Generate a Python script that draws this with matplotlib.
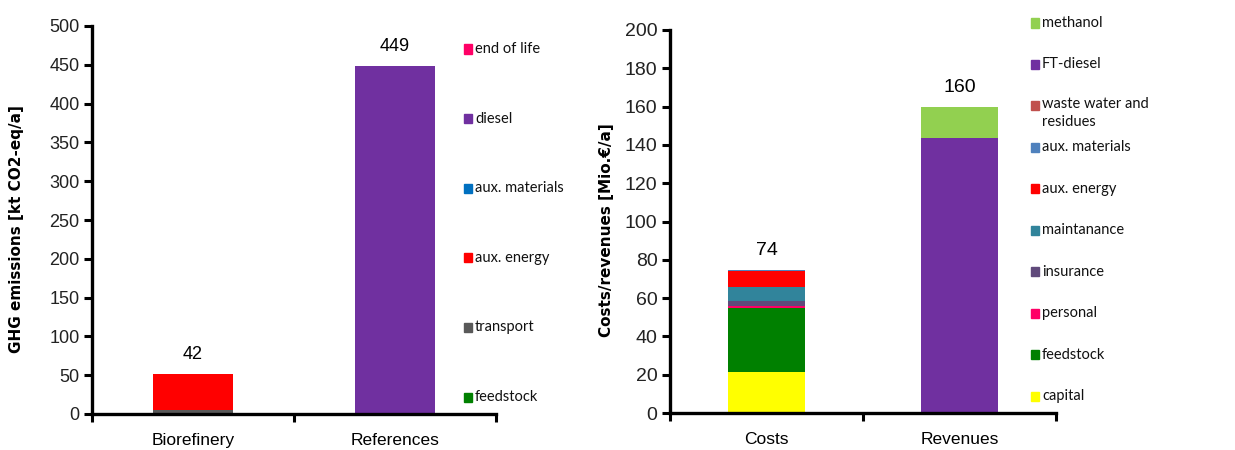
import matplotlib
matplotlib.use("Agg")
import matplotlib.pyplot as plt
import numpy as np

# ---------------- data ----------------
ghg_categories = ["Biorefinery", "References"]
ghg_series = ["feedstock", "transport", "aux. energy", "aux. materials", "diesel", "end of life"]
ghg_feedstock = [0.0, 0.0]
ghg_transport = [5.5, 0.0]
ghg_aux_energy = [45.5, 0.0]
ghg_aux_materials = [0.0, 0.0]
ghg_diesel = [0.0, 449.0]
ghg_end_of_life = [0.8, 0.0]
ghg_labels = ["42", "449"]
ghg_colors = ["#008000", "#595959", "#FF0000", "#0070C0", "#7030A0", "#FF0066"]

cr_categories = ["Costs", "Revenues"]
cr_series = ["capital", "feedstock", "personal", "insurance", "maintanance",
             "aux. energy", "aux. materials", "waste water and\nresidues", "FT-diesel", "methanol"]
cr_capital = [21.4, 0.0]
cr_feedstock = [33.5, 0.0]
cr_personal = [1.0, 0.0]
cr_insurance = [2.5, 0.0]
cr_maintanance = [7.6, 0.0]
cr_aux_energy = [8.2, 0.0]
cr_aux_materials = [0.3, 0.0]
cr_waste_water = [0.2, 0.0]
cr_ft_diesel = [0.0, 143.4]
cr_methanol = [0.0, 16.6]
cr_labels = ["74", "160"]
cr_colors = ["#FFFF00", "#008000", "#FF0066", "#604A7B", "#31849B",
             "#FF0000", "#4F81BD", "#C0504D", "#7030A0", "#92D050"]

ghg_values = [ghg_feedstock, ghg_transport, ghg_aux_energy, ghg_aux_materials, ghg_diesel, ghg_end_of_life]
cr_values = [cr_capital, cr_feedstock, cr_personal, cr_insurance, cr_maintanance,
             cr_aux_energy, cr_aux_materials, cr_waste_water, cr_ft_diesel, cr_methanol]

NARROW = ["Liberation Sans Narrow", "Liberation Sans", "DejaVu Sans"]
LEG = ["Lato", "DejaVu Sans"]

fig = plt.figure(figsize=(12.35, 4.5), dpi=100)


def draw_panel(rect, cats, series, values, colors, labels, ymax, ystep, ylabel,
               leg_x, leg_y_top, leg_y_bot, tick_fs, label_fs, ylab_x):
    ax = fig.add_axes(rect)
    x = np.arange(len(cats))
    bottom = np.zeros(len(cats))
    for name, vals, col in zip(series, values, colors):
        v = np.array(vals, dtype=float)
        ax.bar(x, v, width=0.4, bottom=bottom, color=col, edgecolor="none", zorder=2)
        bottom += v
    for xi, top, lab in zip(x, bottom, labels):
        ax.annotate(lab, (xi, top), xytext=(0, 19), textcoords="offset pixels",
                    ha="center", va="center", fontsize=label_fs, family=NARROW)
    ax.set_xlim(-0.5, 1.5)
    ax.set_ylim(0, ymax)
    ax.set_yticks(np.arange(0, ymax + 0.1, ystep))
    ax.set_xticks(x)
    ax.set_xticklabels(cats, family=NARROW, fontsize=12.5)
    ax.set_xticks([-0.5, 0.5, 1.5], minor=True)
    ax.tick_params(axis="x", which="major", length=0, pad=14)
    ax.tick_params(axis="x", which="minor", length=6, width=2.2, direction="out")
    ax.tick_params(axis="y", length=6, width=2.2, direction="out", labelsize=tick_fs, pad=3,
                   labelcolor="#222222")
    for t in ax.get_yticklabels():
        t.set_family(NARROW)
    for s in ["top", "right"]:
        ax.spines[s].set_visible(False)
    for s in ["left", "bottom"]:
        ax.spines[s].set_linewidth(2.4)
    ax.patch.set_alpha(0)
    fig.text(ylab_x, rect[1] + rect[3] / 2 - 0.02, ylabel, rotation=90, ha="center", va="center",
             fontsize=11, fontweight="bold", family=["DejaVu Sans"])
    # legend (top item = last series)
    n = len(series)
    ys = np.linspace(leg_y_top, leg_y_bot, n)
    for name, col, yy in zip(series[::-1], colors[::-1], ys):
        fig.patches.append(plt.Rectangle(((leg_x - 4) / 1235, 1 - (yy + 4.5) / 450), 8 / 1235, 9 / 450,
                                         transform=fig.transFigure, color=col, figure=fig))
        txt_y = yy
        va = "center"
        if "\n" in name:
            va = "top"
            txt_y = yy - 9
        fig.text((leg_x + 7) / 1235, 1 - txt_y / 450, name, ha="left", va=va,
                 fontsize=10.5, family=LEG, color="#111111", linespacing=1.35)
    return ax


draw_panel([92 / 1235, 1 - 414 / 450, (496 - 92) / 1235, (414 - 26) / 450],
           ghg_categories, ghg_series, ghg_values, ghg_colors, ghg_labels,
           500, 50, "GHG emissions [kt CO2-eq/a]",
           468, 49, 397, 13, 13, 17 / 1235)

draw_panel([670 / 1235, 1 - 413 / 450, (1056 - 670) / 1235, (413 - 30) / 450],
           cr_categories, cr_series, cr_values, cr_colors, cr_labels,
           200, 20, "Costs/revenues [Mio.€/a]",
           1035, 23, 396, 14, 14, 607 / 1235)

fig.savefig("out.png", dpi=100)
